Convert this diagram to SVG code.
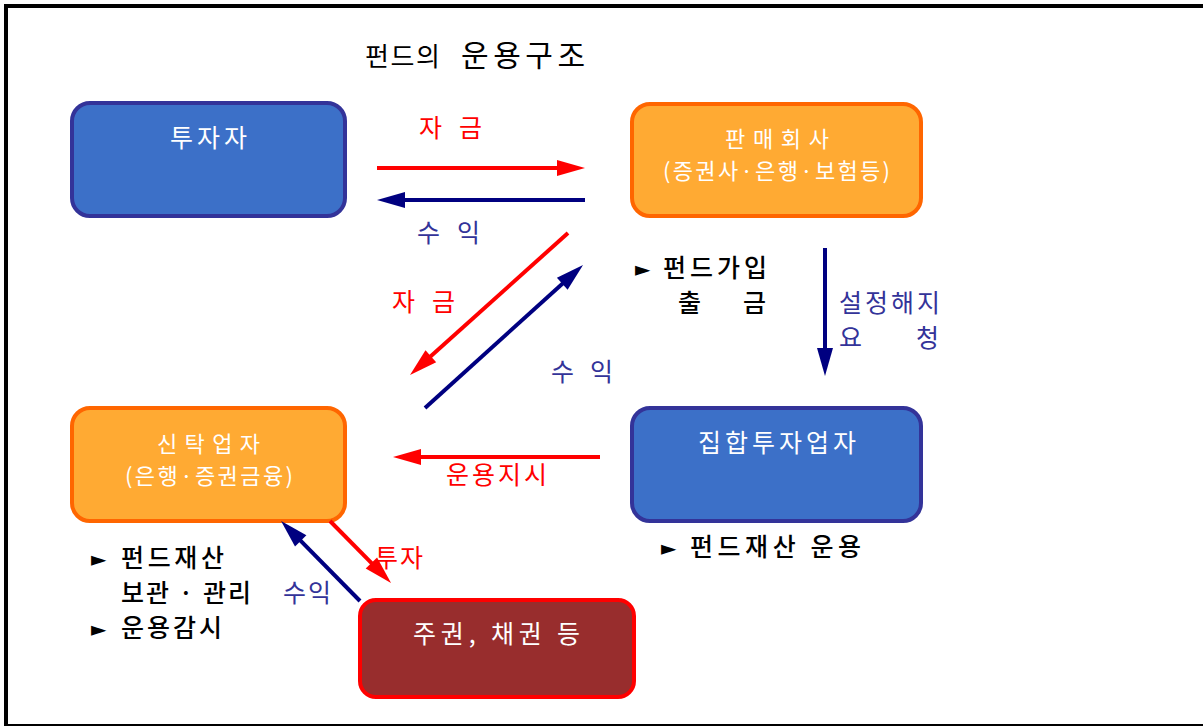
<svg xmlns="http://www.w3.org/2000/svg" width="1203" height="726" viewBox="0 0 1203 726">
<style>
text{font-family:"Noto Sans CJK KR","Noto Sans",sans-serif;font-size:25px}
.w{fill:#ffffff}
.n2{font-size:22px}
.k{fill:#000000;font-weight:500}
.t{fill:#000000}
.r{fill:#ff0000}
.b{fill:#333399}
.tri{font-family:"DejaVu Sans",sans-serif;font-size:20px}
.blue{fill:#3c70c8;stroke:#333399;stroke-width:4}
.orng{fill:#ffaa33;stroke:#ff6600;stroke-width:4}
.dred{fill:#982d2d;stroke:#ff0000;stroke-width:4}
.lr{stroke:#ff0000;stroke-width:4;fill:none;marker-end:url(#ar)}
.ln{stroke:#000080;stroke-width:4;fill:none;marker-end:url(#an)}
</style>
<defs>
<marker id="ar" markerUnits="userSpaceOnUse" markerWidth="30" markerHeight="18" refX="8" refY="8" orient="auto" overflow="visible"><path d="M0,0 L28,8 L0,16 z" fill="#ff0000"/></marker>
<marker id="an" markerUnits="userSpaceOnUse" markerWidth="30" markerHeight="18" refX="8" refY="8" orient="auto" overflow="visible"><path d="M0,0 L28,8 L0,16 z" fill="#000080"/></marker>
</defs>
<rect x="0" y="0" width="1203" height="726" fill="#ffffff"/>
<rect x="6" y="6" width="1199" height="720" fill="none" stroke="#000000" stroke-width="4"/>
<g id="title">
<text class="t" x="365" y="66" style="font-size:26px" textLength="75" lengthAdjust="spacing">펀드의</text>
<text class="t" x="461" y="66" style="font-size:30px" textLength="124" lengthAdjust="spacing">운용구조</text>
</g>
<g id="investor">
<rect class="blue" x="72" y="103" width="273" height="113" rx="18"/>
<text class="w" x="170" y="147" textLength="77" lengthAdjust="spacing">투자자</text>
</g>
<g id="seller">
<rect class="orng" x="632" y="104" width="289" height="112" rx="18"/>
<text class="w n2" x="725" y="147" textLength="104" lengthAdjust="spacing">판매회사</text>
<text class="w n2" x="663" y="179" textLength="227" lengthAdjust="spacing">(증권사·은행·보험등)</text>
</g>
<g id="manager">
<rect class="blue" x="632" y="408" width="289" height="113" rx="18"/>
<text class="w" x="698" y="452" textLength="158" lengthAdjust="spacing">집합투자업자</text>
</g>
<g id="trustee">
<rect class="orng" x="72" y="408" width="273" height="113" rx="18"/>
<text class="w n2" x="157" y="452" textLength="103" lengthAdjust="spacing">신탁업자</text>
<text class="w n2" x="125" y="484" textLength="168" lengthAdjust="spacing">(은행·증권금융)</text>
</g>
<g id="securities">
<rect class="dred" x="360" y="600" width="274" height="97" rx="16"/>
<text class="w" x="413" y="643" textLength="167" lengthAdjust="spacing">주권, 채권 등</text>
</g>
<g id="connectors">
<line class="lr" x1="377" y1="168" x2="565" y2="168"/>
<line class="ln" x1="585" y1="200" x2="397" y2="200"/>
<line class="lr" x1="568" y1="233" x2="424.9" y2="361.6"/>
<line class="ln" x1="425" y1="408" x2="568.2" y2="278.4"/>
<line class="ln" x1="825" y1="248" x2="825" y2="356"/>
<line class="lr" x1="600" y1="457" x2="413" y2="457"/>
<line class="lr" x1="330" y1="521" x2="377" y2="568.7"/>
<line class="ln" x1="360" y1="601" x2="295.1" y2="535.2"/>
</g>
<g id="labels">
<text class="r"><tspan x="419" y="137">자</tspan> <tspan x="459" y="137">금</tspan></text>
<text class="b"><tspan x="417" y="242">수</tspan> <tspan x="457" y="242">익</tspan></text>
<text class="r"><tspan x="392" y="311">자</tspan> <tspan x="432" y="311">금</tspan></text>
<text class="b"><tspan x="551" y="381">수</tspan> <tspan x="590" y="381">익</tspan></text>
<text class="r" x="446" y="484" textLength="101" lengthAdjust="spacing">운용지시</text>
<text class="r" x="375" y="567" textLength="48" lengthAdjust="spacing">투자</text>
<text class="b" x="283" y="602" textLength="48" lengthAdjust="spacing">수익</text>
<text class="b" x="839" y="312" textLength="101" lengthAdjust="spacing">설정해지</text>
<text class="b"><tspan x="839" y="347">요</tspan> <tspan x="916" y="347">청</tspan></text>
<text class="k"><tspan class="tri" x="635" y="276">►</tspan> <tspan x="663" y="277" textLength="104" lengthAdjust="spacing">펀드가입</tspan></text>
<text class="k"><tspan x="678" y="312">출</tspan> <tspan x="743" y="312">금</tspan></text>
<text class="k"><tspan class="tri" x="661" y="555">►</tspan> <tspan x="690" y="556" textLength="171" lengthAdjust="spacing">펀드재산 운용</tspan></text>
<text class="k"><tspan class="tri" x="91" y="566">►</tspan> <tspan x="121" y="567" textLength="103" lengthAdjust="spacing">펀드재산</tspan></text>
<text class="k" x="121" y="602" textLength="130" lengthAdjust="spacing">보관 · 관리</text>
<text class="k"><tspan class="tri" x="91" y="636">►</tspan> <tspan x="121" y="637" textLength="101" lengthAdjust="spacing">운용감시</tspan></text>
</g>
</svg>
